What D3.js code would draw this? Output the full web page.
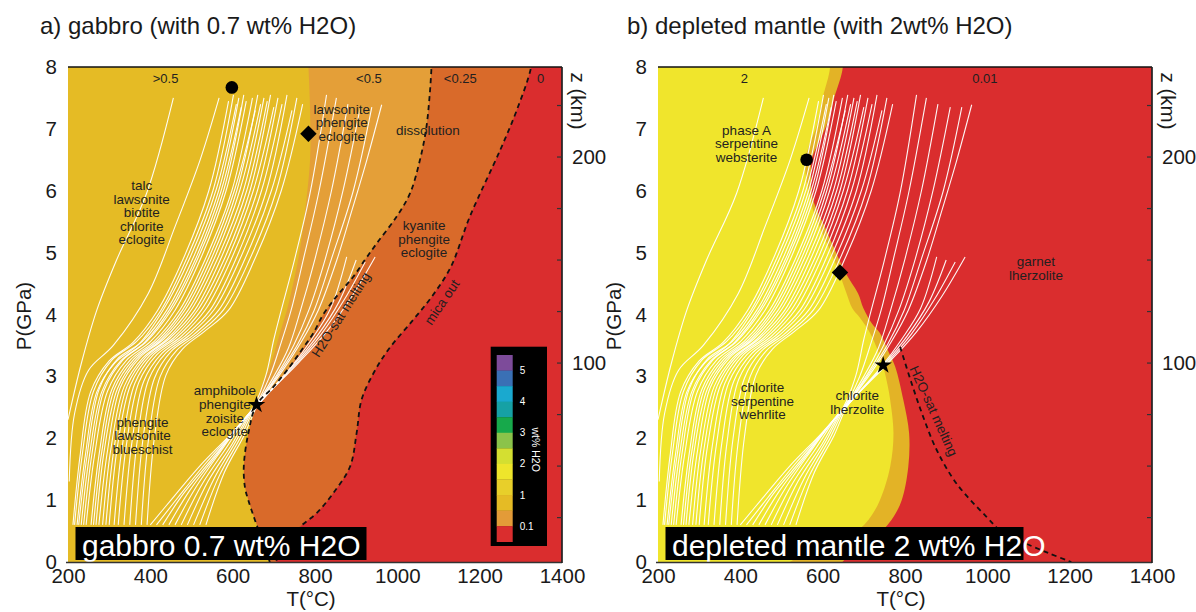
<!DOCTYPE html>
<html><head><meta charset="utf-8">
<script src="https://cdn.jsdelivr.net/npm/d3@7"></script>
<style>
body{margin:0;background:#fff}
text{font-family:"Liberation Sans",Arial,Helvetica,sans-serif}
</style>
</head><body>
<svg id="c" width="1196" height="612"></svg>
<script>
// ---------------- axes ----------------
const tempTicks = [200,400,600,800,1000,1200,1400];
const pressureTicks = [0,1,2,3,4,5,6,7,8];
const depthLabelTicks = [100,200];
const depthMinorTicks = [25,50,75,100,125,150,175,200,225];
const depthRefKm = [100,200];
const depthRefGPa = [3.215,6.545];

// ---------------- P-T paths (T °C, P GPa), shared by both panels ----------------
const ptPaths = [
 [[200,2.3],[232,3.2],[270,4.07],[318,4.88],[391,5.96],[456,7.5]],
 [[203,1.3],[216,2.4],[250,3.1],[310,3.5],[395,4.34],[460,5.42],[521,6.5],[567,7.5]],
 [[212,0.6],[229,1.7],[255,2.75],[300,3.25],[358,3.55],[418,4.07],[480,4.9],[542,6.0],[590,7.45]],
 [[216,0.6],[234,1.7],[262,2.76],[306,3.26],[366,3.56],[426,4.07],[488,4.9],[552,6.0],[602,7.55]],
 [[222,0.6],[242,1.72],[270,2.75],[314,3.22],[372,3.52],[432,4.08],[495,4.9],[560,6.02],[609,7.4]],
 [[226,0.6],[247,1.75],[276,2.8],[320,3.28],[380,3.56],[440,4.07],[503,4.9],[566,6.0],[615,7.5]],
 [[232,0.6],[252,1.72],[282,2.75],[328,3.25],[386,3.55],[446,4.07],[510,4.9],[572,6.0],[621,7.35]],
 [[238,0.6],[258,1.74],[288,2.78],[334,3.27],[392,3.57],[452,4.08],[515,4.9],[578,6.0],[627,7.55]],
 [[244,0.6],[265,1.75],[296,2.76],[342,3.26],[400,3.56],[460,4.07],[522,4.9],[584,6.0],[633,7.45]],
 [[256,0.6],[276,1.76],[306,2.78],[352,3.27],[410,3.57],[472,4.08],[534,4.9],[598,6.0],[648,7.5]],
 [[262,0.6],[282,1.78],[313,2.8],[360,3.28],[418,3.58],[478,4.07],[541,4.9],[604,6.0],[655,7.3]],
 [[268,0.6],[288,1.8],[320,2.8],[366,3.28],[424,3.58],[485,4.08],[548,4.9],[610,6.0],[661,7.55]],
 [[275,0.6],[296,1.8],[327,2.82],[374,3.3],[432,3.6],[492,4.07],[555,4.9],[617,6.0],[668,7.4]],
 [[284,0.6],[304,1.82],[336,2.83],[382,3.3],[440,3.6],[500,4.08],[563,4.9],[626,6.0],[676,7.5]],
 [[292,0.6],[312,1.84],[344,2.85],[390,3.32],[448,3.62],[508,4.07],[571,4.9],[634,6.0],[684,7.45]],
 [[300,0.6],[320,1.86],[352,2.86],[398,3.33],[456,3.62],[516,4.08],[580,4.9],[642,6.0],[692,7.55]],
 [[312,0.6],[332,1.88],[362,2.88],[406,3.34],[464,3.63],[524,4.07],[588,4.9],[650,6.0],[700,7.35]],
 [[322,0.6],[342,1.9],[372,2.9],[416,3.35],[474,3.64],[534,4.08],[597,4.9],[660,6.0],[710,7.5]],
 [[336,0.6],[355,1.92],[384,2.92],[428,3.37],[484,3.65],[545,4.07],[608,4.9],[670,6.0],[720,7.4]],
 [[350,0.6],[368,1.95],[396,2.95],[438,3.38],[494,3.66],[555,4.08],[618,4.9],[682,6.0],[732,7.55]],
 [[364,0.6],[382,1.98],[410,2.97],[450,3.4],[506,3.68],[566,4.07],[630,4.9],[694,6.0],[744,7.3]],
 [[378,0.6],[396,2.0],[424,3.0],[464,3.42],[518,3.7],[578,4.08],[642,4.9],[706,6.0],[756,7.5]],
 [[392,0.6],[410,2.02],[438,3.02],[478,3.44],[530,3.72],[590,4.07],[654,4.9],[718,6.0],[770,7.4]],
 [[400,0.6],[450,1.0],[520,1.55],[600,2.1],[650,2.5],[680,3.0],[700,3.6],[718,4.07],[750,4.88],[788,5.96],[828,7.55]],
 [[415,0.6],[468,1.05],[535,1.6],[608,2.15],[654,2.52],[690,3.0],[718,3.55],[742,4.07],[772,4.9],[810,6.0],[852,7.5]],
 [[430,0.6],[480,1.1],[548,1.65],[615,2.2],[657,2.54],[700,3.0],[735,3.45],[765,4.07],[800,4.9],[840,6.0],[880,7.4]],
 [[445,0.6],[495,1.15],[560,1.72],[620,2.25],[660,2.56],[708,3.03],[748,3.5],[785,4.07],[825,4.9],[868,6.0],[910,7.35]],
 [[460,0.6],[510,1.2],[572,1.8],[627,2.3],[662,2.57],[715,3.07],[758,3.52],[798,4.07],[840,4.9],[893,6.0],[938,7.35]],
 [[475,0.6],[525,1.25],[585,1.85],[634,2.35],[664,2.58],[722,3.1],[766,3.55],[808,4.07],[853,4.88],[890,5.69],[926,6.5],[962,7.39]],
 [[490,0.6],[540,1.3],[598,1.9],[640,2.38],[668,2.6],[742,3.15],[792,3.6],[838,4.1],[877,4.93]],
 [[505,0.6],[555,1.35],[608,1.95],[646,2.42],[672,2.62],[748,3.18],[805,3.65],[858,4.2],[900,4.88]],
 [[520,0.6],[568,1.4],[618,2.0],[652,2.46],[676,2.65],[754,3.2],[815,3.68],[872,4.25],[922,4.85]],
 [[535,0.6],[580,1.45],[628,2.05],[658,2.5],[680,2.68],[760,3.22],[828,3.72],[890,4.3],[946,4.93]]
];

// ---------------- gabbro field boundaries (top -> bottom) ----------------
const gabbroMicaOut = [[1330,8.4],[1325,8],[1290,7.3],[1250,6.66],[1176,5.58],[1130,4.77],[1085,4.3],[1038,3.91],[978,3.43],[942,3.05],[913,2.62],[901,2.08],[885,1.54],[844,1.11],[804,0.79],[764,0.57],[730,0.3],[705,0],[700,-0.4]];
const gabbroMeltUpper = [[1085,8.4],[1083,8],[1078,7.5],[1070,7.0],[1055,6.5],[1031,5.96],[998,5.58],[950,5.15],[921,4.88],[893,4.61],[866,4.4],[845,4.23],[820,4.0],[796,3.7],[768,3.43],[739,3.16],[699,2.83]];
const gabbroMeltLower = [[658,2.54],[638,2.08],[627,1.54],[630,1.2],[638,1.0],[654,0.68],[672,0.35],[690,0],[700,-0.4]];
const gabbroGoldUpper = [[780,8.4],[784,8],[788,7.3],[788,6.5],[771,5.41],[759,4.88],[742,4.35],[733,4.1],[715,3.7],[691,3.16],[670,2.83]];

// ---------------- depleted mantle boundaries ----------------
const mantleRedEdge = [[645,8.4],[649,8],[628,7.5],[608,7.04],[588,6.75],[573,6.5],[572,6.2],[573,5.96],[582,5.75],[605,5.42],[626,5.1],[655,4.68],[686,4.34],[699,4.1],[720,3.85],[739,3.7],[760,3.4],[776,3.16],[796,2.62],[810,2.08],[808,1.54],[792,1.0],[767,0.68],[720,0.35],[648,0],[620,-0.4]];
const mantleYellowEdge = [[614,8.4],[618,8],[600,7.5],[585,7.04],[568,6.75],[558,6.5],[560,6.2],[567,5.96],[576,5.7],[593,5.42],[614,5.1],[640,4.68],[658,4.34],[672,4.1],[690,3.95],[715,3.7],[735,3.4],[747,3.16],[758,2.85],[764,2.62],[772,2.08],[764,1.54],[739,1.0],[711,0.68],[665,0.4],[590,0.12],[520,0],[480,-0.4]];
const mantleMelt = [[788,3.48],[816,2.89],[844,2.35],[877,1.81],[925,1.27],[998,0.73],[1038,0.47],[1093,0.3],[1150,0.14],[1204,0.0]];

// ---------------- markers ----------------
const gabbroMarkers = [{shape:"circle",T:598,P:7.67},{shape:"diamond",T:784,P:6.92},{shape:"star",T:658,P:2.54}];
const mantleMarkers = [{shape:"circle",T:561,P:6.5},{shape:"diamond",T:642,P:4.68},{shape:"star",T:747,P:3.18}];

// ---------------- labels ----------------
const gabbroTopLabels = [{t:">0.5",T:437},{t:"<0.5",T:931},{t:"<0.25",T:1153},{t:"0",T:1348}];
const mantleTopLabels = [{t:"2",T:410},{t:"0.01",T:994}];
const gabbroFieldLabels = [
 {lines:["lawsonite","phengite","eclogite"],T:865,P:7.32},
 {lines:["dissolution"],T:1074,P:6.98},
 {lines:["talc","lawsonite","biotite","chlorite","eclogite"],T:379,P:6.09},
 {lines:["kyanite","phengite","eclogite"],T:1065,P:5.44},
 {lines:["amphibole","phengite","zoisite","eclogite"],T:581,P:2.77},
 {lines:["phengite","lawsonite","blueschist"],T:381,P:2.26}
];
const mantleFieldLabels = [
 {lines:["phase A","serpentine","websterite"],T:415,P:6.98},
 {lines:["garnet","lherzolite"],T:1118,P:4.86},
 {lines:["chlorite","serpentine","wehrlite"],T:454,P:2.82},
 {lines:["chlorite","lherzolite"],T:684,P:2.69}
];
const gabbroLineLabels = [{t:"H2O-sat melting",T:863,P:4.0,a:-57.5},{t:"mica out",T:1108,P:4.2,a:-56}];
const mantleLineLabels = [{t:"H2O-sat melting",T:870,P:2.44,a:65.5}];

// ---------------- legend ----------------
const legendColors = ["#7d4b9a","#3a70b5","#1aa9cf","#16a1a5","#17a94b","#8bc34a","#d4df31","#eee52b","#e8cf2a","#e5bb25","#e39b38","#da2d2e"];
const legendLabels = ["5","4","3","2","1","0.1"];

// ---------------- drawing ----------------
const svg = d3.select("#c");
const plotW = 494, yTop = 67, yBot = 562;
const y = d3.scaleLinear().domain([0,8]).range([yBot,yTop]);
const COL = {red:"#da2d2e", gold:"#e5bb25", lorange:"#e49f38", dorange:"#d96a2a", yellow:"#f0e52c", band:"#e3b326"};

const panels = [
 {id:"a", x0:68, title:"a) gabbro (with 0.7 wt% H2O)", titleX:40,
  fills:[{edge:gabbroMicaOut,c:COL.dorange},{edge:gabbroMeltUpper.concat(gabbroMeltLower),c:COL.lorange},{edge:gabbroGoldUpper.concat(gabbroMeltLower),c:COL.gold}],
  dashed:[gabbroMeltUpper.concat(gabbroMeltLower), gabbroMicaOut],
  top:gabbroTopLabels, fields:gabbroFieldLabels, lineLabels:gabbroLineLabels, markers:gabbroMarkers,
  box:"gabbro 0.7 wt% H2O", boxW:291, legend:true},
 {id:"b", x0:658, title:"b) depleted mantle (with 2wt% H2O)", titleX:627,
  fills:[{edge:mantleRedEdge,c:COL.band},{edge:mantleYellowEdge,c:COL.yellow}],
  dashed:[mantleMelt],
  top:mantleTopLabels, fields:mantleFieldLabels, lineLabels:mantleLineLabels, markers:mantleMarkers,
  box:"depleted mantle 2 wt% H2O", boxW:358, legend:false}
];

const ink = "#231f20";

panels.forEach(cfg => {
  const x = d3.scaleLinear().domain([200,1400]).range([cfg.x0, cfg.x0+plotW]);
  const line = d3.line().x(d=>x(d[0])).y(d=>y(d[1])).curve(d3.curveCatmullRom.alpha(0.5));
  const clipId = "clip-"+cfg.id;
  svg.append("clipPath").attr("id",clipId).append("rect")
     .attr("x",cfg.x0).attr("y",yTop).attr("width",plotW).attr("height",yBot-yTop);
  const g = svg.append("g");
  const pg = g.append("g").attr("clip-path",`url(#${clipId})`);

  pg.append("rect").attr("x",cfg.x0).attr("y",yTop).attr("width",plotW).attr("height",yBot-yTop).attr("fill",COL.red);
  cfg.fills.forEach(f => {
    const d = line(f.edge) + `L${x(100)},${y(-1)}L${x(100)},${y(9)}Z`;
    pg.append("path").attr("d",d).attr("fill",f.c);
  });

  pg.append("g").selectAll("path").data(ptPaths).join("path")
    .attr("d",line).attr("fill","none").attr("stroke","#fff").attr("stroke-width",1.1).attr("stroke-opacity",0.95);

  pg.append("g").selectAll("path").data(cfg.dashed).join("path")
    .attr("d",line).attr("fill","none").attr("stroke","#111").attr("stroke-width",1.8).attr("stroke-dasharray","5,4");

  // top value labels
  pg.append("g").selectAll("text").data(cfg.top).join("text")
    .attr("x",d=>x(d.T)).attr("y",y(7.82)).attr("dy","0.35em").attr("text-anchor","middle")
    .attr("font-size",13).attr("fill",ink).text(d=>d.t);

  // field labels
  cfg.fields.forEach(f => {
    const t = pg.append("text").attr("text-anchor","middle").attr("font-size",13.5).attr("fill",ink);
    f.lines.forEach((s,i)=>{
      t.append("tspan").attr("x",x(f.T)).attr("y",y(f.P)+i*13.6).attr("dy","0.35em").text(s);
    });
  });
  pg.append("g").selectAll("text").data(cfg.lineLabels).join("text")
    .attr("transform",d=>`translate(${x(d.T)},${y(d.P)}) rotate(${d.a})`)
    .attr("text-anchor","middle").attr("dy","0.35em").attr("font-size",13.5).attr("fill",ink).text(d=>d.t);

  // markers
  const sym = {circle:d3.symbolCircle, diamond:d3.symbolSquare, star:d3.symbolStar};
  const size = {circle:125, diamond:135, star:95};
  pg.append("g").selectAll("path").data(cfg.markers).join("path")
    .attr("d",d=>d3.symbol(sym[d.shape], size[d.shape])())
    .attr("transform",d=>`translate(${x(d.T)},${y(d.P)})` + (d.shape==="diamond"?" rotate(45)":""))
    .attr("fill","#000");

  // black caption box
  const bx = cfg.x0+7.5, by = 527;
  g.append("rect").attr("x",bx).attr("y",by).attr("width",cfg.boxW).attr("height",33).attr("fill","#000");
  g.append("text").attr("x",bx+6.5).attr("y",by+29).attr("font-size",30).attr("fill","#fff").text(cfg.box);

  // legend
  if (cfg.legend) {
    const lx = cfg.x0+422.7, ly = 346.7;
    const lg = g.append("g");
    lg.append("rect").attr("x",lx).attr("y",ly).attr("width",56.3).attr("height",199.3).attr("fill","#000");
    const band = d3.scaleBand().domain(d3.range(legendColors.length)).range([ly+8.3, ly+195]);
    lg.selectAll("rect.cell").data(legendColors).join("rect").attr("class","cell")
      .attr("x",lx+6).attr("y",(d,i)=>band(i)).attr("width",16).attr("height",band.bandwidth()+0.3).attr("fill",d=>d);
    lg.selectAll("text.lab").data(legendLabels).join("text").attr("class","lab")
      .attr("x",lx+29).attr("y",(d,i)=>band(2*i+1)).attr("dy","0.35em")
      .attr("font-size",10).attr("fill","#fff").text(d=>d);
    lg.append("text").attr("transform",`translate(${lx+45},${ly+103}) rotate(90)`)
      .attr("text-anchor","middle").attr("dy","0.35em").attr("font-size",10.5).attr("fill","#fff").text("wt% H2O");
  }

  // frame lines
  g.append("line").attr("x1",cfg.x0).attr("x2",cfg.x0+plotW).attr("y1",yTop).attr("y2",yTop).attr("stroke","#111").attr("stroke-width",1.6);
  g.append("line").attr("x1",cfg.x0-2).attr("x2",cfg.x0+plotW).attr("y1",yBot+0.5).attr("y2",yBot+0.5).attr("stroke","#333").attr("stroke-width",1.6);

  // axes
  const xAxis = g.append("g").attr("transform",`translate(0,${yBot})`)
     .call(d3.axisBottom(x).tickValues(tempTicks).tickFormat(d3.format("d")).tickSize(0).tickPadding(6));
  const yAxis = g.append("g").attr("transform",`translate(${cfg.x0},0)`)
     .call(d3.axisLeft(y).tickValues(pressureTicks).tickFormat(d3.format("d")).tickSize(0).tickPadding(11));
  const zScale = d3.scaleLinear().domain(depthRefKm).range(depthRefGPa.map(y));
  const zx = cfg.x0+plotW;
  const zAxis = g.append("g").attr("transform",`translate(${zx},0)`)
     .call(d3.axisRight(zScale).tickValues(depthLabelTicks).tickFormat(d3.format("d")).tickSize(0).tickPadding(10));
  [xAxis,yAxis,zAxis].forEach(a=>{
    a.select(".domain").remove();
    a.selectAll("text").attr("font-size",20.5).attr("fill","#1a1a1a").attr("font-family","Liberation Sans, Arial, sans-serif");
  });
  g.append("line").attr("x1",zx).attr("x2",zx).attr("y1",yTop).attr("y2",yBot+1).attr("stroke","#222").attr("stroke-width",1.7);
  g.append("g").selectAll("line").data(depthMinorTicks).join("line")
    .attr("x1",zx-5).attr("x2",zx).attr("y1",d=>zScale(d)).attr("y2",d=>zScale(d)).attr("stroke","#333").attr("stroke-width",1.2);

  // axis titles
  g.append("text").attr("x",cfg.x0+243).attr("y",599).attr("dy","0.35em").attr("text-anchor","middle")
   .attr("font-size",20.5).attr("fill","#1a1a1a").text("T(°C)");
  g.append("text").attr("transform",`translate(${cfg.x0-44},${316}) rotate(-90)`).attr("text-anchor","middle").attr("dy","0.35em")
   .attr("font-size",20.5).attr("fill","#1a1a1a").text("P(GPa)");
  g.append("text").attr("transform",`translate(${zx+16},${101}) rotate(90)`).attr("text-anchor","middle").attr("dy","0.35em")
   .attr("font-size",20.5).attr("fill","#1a1a1a").text("z (km)");
  // panel title
  g.append("text").attr("x",cfg.titleX).attr("y",34).attr("font-size",24).attr("fill","#1a1a1a").text(cfg.title);
});
</script>
</body></html>
